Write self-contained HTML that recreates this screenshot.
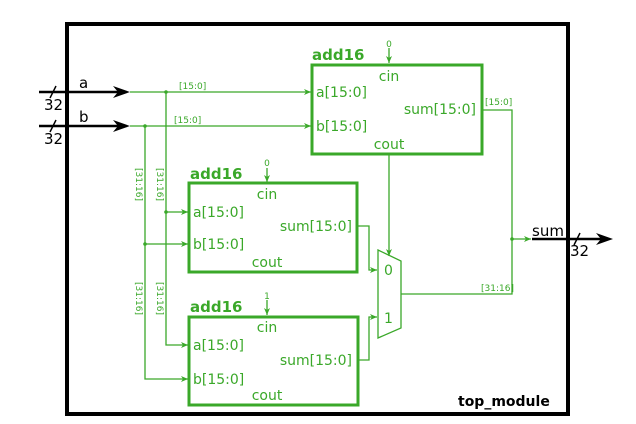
<!DOCTYPE html>
<html><head><style>body{margin:0;background:#fff}svg{display:block}</style></head><body>
<svg width="636" height="424" viewBox="0 0 636 424" xmlns="http://www.w3.org/2000/svg" font-family="'DejaVu Sans','Liberation Sans',sans-serif">
<defs>
<marker id="g" markerWidth="8" markerHeight="8" refX="7" refY="4" orient="auto" markerUnits="userSpaceOnUse"><path d="M0,1 L7,4 L0,7 L2,4z" fill="#3aa829"/></marker>
</defs>
<rect x="67" y="24" width="501" height="390" fill="none" stroke="#000" stroke-width="4"/>
<!-- inputs -->
<g stroke="#000" stroke-width="2.5">
<line x1="39" y1="92" x2="122" y2="92"/><line x1="39" y1="126" x2="122" y2="126"/>
<line x1="532" y1="239" x2="605" y2="239"/>
<line x1="50" y1="98" x2="56" y2="86" stroke-width="1.5"/><line x1="50" y1="132" x2="56" y2="120" stroke-width="1.5"/>
<line x1="574" y1="245" x2="580" y2="233" stroke-width="1.5"/>
</g>
<path d="M113,86 L130,92 L113,98 L118,92z" fill="#000"/>
<path d="M113,120 L130,126 L113,132 L118,126z" fill="#000"/>
<path d="M596,233 L613,239 L596,245 L601,239z" fill="#000"/>
<g font-size="15" fill="#000">
<text x="79" y="88">a</text><text x="79" y="122">b</text>
<text x="44" y="110">32</text><text x="44" y="144">32</text>
<text x="532" y="236">sum</text><text x="570" y="256">32</text>
</g>
<text x="458" y="406" font-size="14" font-weight="bold" fill="#000">top_module</text>
<!-- green wires -->
<g stroke="#3aa829" stroke-width="1.3" fill="none">
<line x1="130" y1="92" x2="311" y2="92" marker-end="url(#g)"/>
<line x1="130" y1="126" x2="311" y2="126" marker-end="url(#g)"/>
<polyline points="166,92 166,345 188,345" marker-end="url(#g)"/>
<polyline points="145,126 145,379 188,379" marker-end="url(#g)"/>
<line x1="166" y1="212" x2="188" y2="212" marker-end="url(#g)"/>
<line x1="145" y1="244" x2="188" y2="244" marker-end="url(#g)"/>
<line x1="389" y1="48" x2="389" y2="63" marker-end="url(#g)"/>
<line x1="267" y1="168" x2="267" y2="182" marker-end="url(#g)"/>
<line x1="267" y1="300" x2="267" y2="315" marker-end="url(#g)"/>
<line x1="389" y1="154" x2="389" y2="256" marker-end="url(#g)"/>
<polyline points="357,226 369,226 369,270 377,270" marker-end="url(#g)"/>
<polyline points="358,360 369,360 369,317 377,317" marker-end="url(#g)"/>
<polyline points="482,110 512,110 512,239 531,239" marker-end="url(#g)"/>
<polyline points="401,294 512,294 512,239"/>
<polygon points="378,250 401,261 401,328 378,338"/>
</g>
<g fill="#3aa829"><circle cx="166" cy="92" r="1.8"/><circle cx="145" cy="126" r="1.8"/><circle cx="166" cy="212" r="1.8"/><circle cx="145" cy="244" r="1.8"/><circle cx="512" cy="239" r="1.8"/></g>
<!-- boxes -->
<g stroke="#3aa829" stroke-width="3" fill="none">
<rect x="312" y="65" width="170" height="89"/>
<rect x="189" y="183" width="168" height="89"/>
<rect x="189" y="317" width="169" height="88"/>
</g>
<g fill="#3aa829" font-size="14">
<text x="312" y="60" font-weight="bold" font-size="15">add16</text>
<text x="190" y="179" font-weight="bold" font-size="15">add16</text>
<text x="190" y="312" font-weight="bold" font-size="15">add16</text>
<text x="389" y="81" text-anchor="middle">cin</text>
<text x="316" y="97">a[15:0]</text><text x="316" y="131">b[15:0]</text>
<text x="476" y="114" text-anchor="end">sum[15:0]</text>
<text x="389" y="149" text-anchor="middle">cout</text>
<text x="267" y="199" text-anchor="middle">cin</text>
<text x="193" y="217">a[15:0]</text><text x="193" y="249">b[15:0]</text>
<text x="352" y="231" text-anchor="end">sum[15:0]</text>
<text x="267" y="267" text-anchor="middle">cout</text>
<text x="267" y="332" text-anchor="middle">cin</text>
<text x="193" y="350">a[15:0]</text><text x="193" y="384">b[15:0]</text>
<text x="352" y="365" text-anchor="end">sum[15:0]</text>
<text x="267" y="400" text-anchor="middle">cout</text>
<text x="384" y="275">0</text><text x="384" y="323">1</text>
</g>
<g fill="#3aa829" font-size="9">
<text x="389" y="47" text-anchor="middle">0</text>
<text x="267" y="166" text-anchor="middle">0</text>
<text x="267" y="299" text-anchor="middle">1</text>
<text x="179" y="89">[15:0]</text><text x="174" y="123">[15:0]</text>
<text x="485" y="105">[15:0]</text><text x="481" y="291">[31:16]</text>
<text transform="translate(157,168) rotate(90)">[31:16]</text>
<text transform="translate(136,168) rotate(90)">[31:16]</text>
<text transform="translate(157,282) rotate(90)">[31:16]</text>
<text transform="translate(136,282) rotate(90)">[31:16]</text>
</g>
</svg>
</body></html>
